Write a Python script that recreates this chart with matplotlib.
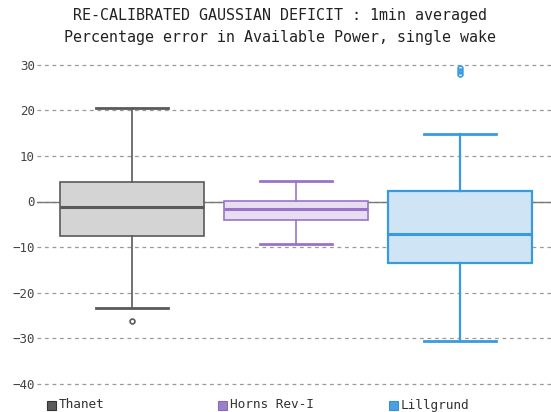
import matplotlib
matplotlib.use("Agg")
from matplotlib import pyplot as plt
from matplotlib.patches import Rectangle

plt.rcParams['font.family'] = ['DejaVu Sans Mono']

# Box statistics (percentage error)
farms = ["Thanet", "Horns Rev-I", "Lillgrund"]
whisker_hi = [20.5, 4.5, 14.9]
q3 = [4.3, 0.2, 2.4]
median = [-1.2, -1.6, -7.1]
q1 = [-7.5, -4.0, -13.6]
whisker_lo = [-23.3, -9.3, -30.7]
outliers = [[-26.2], [], [29.3, 28.7, 28.0]]

edge_cols = ["#5a5a5a", "#9a73c8", "#3a9ae0"]
fill_cols = ["#d4d4d4", "#e8def2", "#cfe5f6"]
legend_cols = ["#5a5a5a", "#9b7fc8", "#4aa0e0"]
legend_edges = ["#333333", "#8a6cb8", "#3a90d0"]

W, H = 551, 412
fig = plt.figure(figsize=(W / 100, H / 100), dpi=100)
ax = fig.add_axes([37 / W, 26 / H, (W - 37) / W, 328 / H])

for i, name in enumerate(farms):
    st = dict(label=name, med=median[i], q1=q1[i], q3=q3[i],
              whislo=whisker_lo[i], whishi=whisker_hi[i], fliers=outliers[i])
    lw = 1.2 if i < 2 else 1.6
    ax.bxp([st], positions=[i], widths=0.878, capwidths=0.44, patch_artist=True,
           boxprops=dict(facecolor=fill_cols[i], edgecolor=edge_cols[i], linewidth=lw),
           medianprops=dict(color=edge_cols[i], linewidth=2.2),
           whiskerprops=dict(color=edge_cols[i], linewidth=lw),
           capprops=dict(color=edge_cols[i], linewidth=2.0),
           flierprops=dict(marker='o', markersize=3.5, markerfacecolor='none',
                           markeredgecolor=edge_cols[i], markeredgewidth=1.2),
           zorder=3)

ax.set_xlim(-0.579, 2.555)
ax.set_ylim(-40.5, 31.5)
ax.set_yticks(range(-40, 31, 10))
ax.set_xticks([])
ax.yaxis.grid(True, linestyle=(0, (3, 3)), color="#9a9a9a", linewidth=0.9)
ax.axhline(0, color="#777777", linewidth=1.0, zorder=2)
ax.set_axisbelow(True)
for s in ax.spines.values():
    s.set_visible(False)
ax.tick_params(axis='y', length=0, pad=1.5, labelsize=9, labelcolor="#444444")

fig.text(0.508, 0.962, "RE-CALIBRATED GAUSSIAN DEFICIT : 1min averaged",
         ha="center", va="center", fontsize=10.8, color="#222222")
fig.text(0.508, 0.908, "Percentage error in Available Power, single wake",
         ha="center", va="center", fontsize=10.8, color="#222222")

# legend row at the bottom, evenly spaced entries
for i, name in enumerate(farms):
    x0 = 47 + i * 171
    fig.add_artist(Rectangle((x0 / W, 2.5 / H), 9 / W, 9 / H, transform=fig.transFigure,
                             facecolor=legend_cols[i], edgecolor=legend_edges[i], linewidth=0.8))
    fig.text((x0 + 12) / W, 7 / H, name, ha="left", va="center",
             fontsize=9.2, color="#333333")

fig.savefig("out.png", dpi=100)
